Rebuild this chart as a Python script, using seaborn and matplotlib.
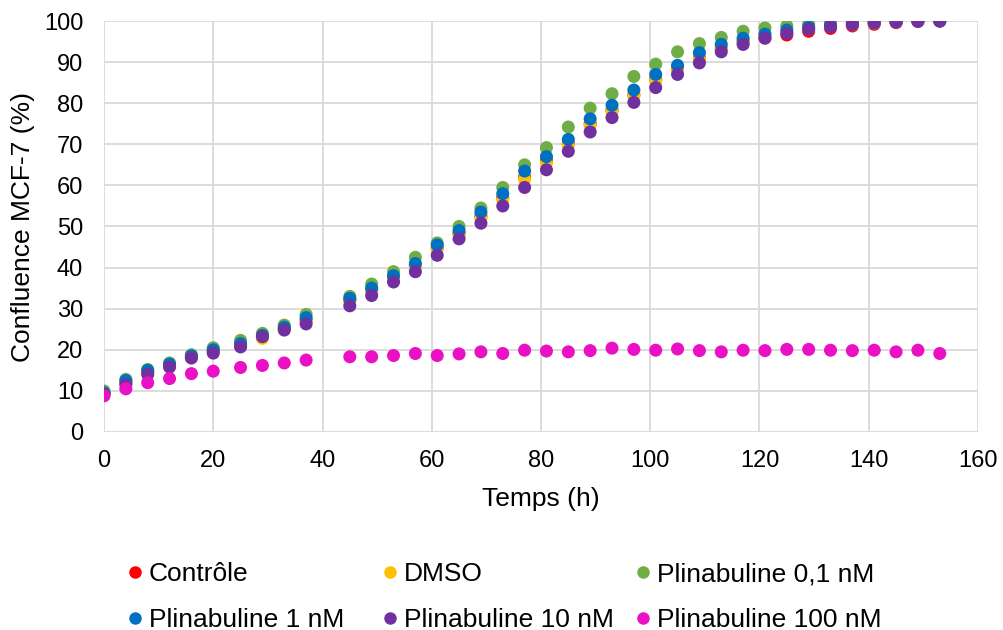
import matplotlib
matplotlib.use("Agg")
import matplotlib.pyplot as plt
from matplotlib.lines import Line2D
import seaborn as sns
import pandas as pd

temps = [0, 4, 8, 12, 16, 20, 25, 29, 33, 37, 45, 49, 53, 57, 61, 65, 69, 73, 77, 81, 85, 89,
         93, 97, 101, 105, 109, 113, 117, 121, 125, 129, 133, 137, 141, 145, 149, 153]

controle = [9.4, 12.0, 14.6, 16.2, 18.2, 19.7, 21.2, 23.0, 25.2, 27.2, 32.0, 34.5, 37.5, 40.5, 44.8,
            48.3, 52.5, 57.0, 62.0, 66.0, 70.2, 75.0, 78.3, 82.0, 85.8, 88.3, 91.0, 93.3, 95.0,
            96.0, 96.6, 97.5, 98.2, 98.8, 99.2, 99.6, 99.9, 100.0]
dmso = [9.3, 12.1, 14.5, 16.1, 18.1, 19.6, 21.0, 22.8, 25.0, 27.0, 31.8, 34.2, 37.2, 40.2, 44.5,
        48.0, 52.0, 56.5, 61.5, 65.5, 69.8, 74.6, 78.0, 81.8, 85.5, 88.0, 90.8, 93.2, 95.0,
        96.2, 97.2, 98.1, 98.7, 99.1, 99.5, 99.7, 99.9, 100.0]
plin_01 = [10.0, 12.8, 15.2, 16.8, 18.8, 20.5, 22.3, 24.0, 26.0, 28.6, 33.0, 36.0, 39.0, 42.5, 46.0,
           50.0, 54.5, 59.5, 65.0, 69.2, 74.2, 78.8, 82.3, 86.5, 89.5, 92.5, 94.5, 96.0, 97.5,
           98.3, 98.8, 99.2, 99.5, 99.7, 99.8, 99.9, 100.0, 100.0]
plin_1 = [9.5, 12.5, 15.0, 16.5, 18.5, 20.0, 21.5, 23.5, 25.5, 27.8, 32.5, 35.0, 38.0, 41.0, 45.5,
          49.0, 53.5, 58.0, 63.5, 67.0, 71.2, 76.2, 79.5, 83.2, 87.0, 89.2, 92.3, 94.3, 95.8,
          96.8, 97.8, 98.5, 99.0, 99.4, 99.7, 99.8, 100.0, 100.0]
plin_10 = [9.2, 11.5, 14.0, 15.8, 18.0, 19.2, 20.7, 23.2, 24.8, 26.3, 30.7, 33.2, 36.5, 39.0, 43.0,
           47.0, 50.8, 55.0, 59.5, 63.8, 68.3, 73.0, 76.5, 80.2, 83.8, 87.0, 89.8, 92.5, 94.3,
           95.8, 97.0, 98.0, 98.6, 99.1, 99.5, 99.7, 99.9, 100.0]
plin_100 = [8.8, 10.5, 12.0, 13.0, 14.2, 14.8, 15.7, 16.2, 16.8, 17.5, 18.3, 18.3, 18.6, 19.1, 18.6,
            19.0, 19.5, 19.1, 19.9, 19.7, 19.5, 19.8, 20.4, 20.1, 19.9, 20.2, 19.8, 19.5, 19.9,
            19.8, 20.1, 20.1, 19.9, 19.8, 19.9, 19.5, 19.9, 19.1]

series_names = ["Contrôle", "DMSO", "Plinabuline 0,1 nM", "Plinabuline 1 nM",
                "Plinabuline 10 nM", "Plinabuline 100 nM"]
series_values = [controle, dmso, plin_01, plin_1, plin_10, plin_100]
colors = ["#FF0000", "#FFC000", "#70AD47", "#0070C0", "#7030A0", "#EA10C4"]

rows = []
for name, vals in zip(series_names, series_values):
    for t, v in zip(temps, vals):
        rows.append({"Temps": t, "Confluence": v, "Série": name})
df = pd.DataFrame(rows)

sns.set_theme(style="white")
plt.rcParams["font.family"] = ["Liberation Sans", "DejaVu Sans"]
plt.rcParams["text.color"] = "#000000"
plt.rcParams["axes.labelcolor"] = "#000000"

W, H = 1004, 630
fig = plt.figure(figsize=(W / 100, H / 100), dpi=100)
ax = fig.add_axes([104 / W, 1 - 432 / H, (978 - 104) / W, (432 - 21) / H])

sns.scatterplot(data=df, x="Temps", y="Confluence", hue="Série", hue_order=series_names,
                palette=colors, s=88, edgecolor="none", linewidth=0, legend=False, ax=ax,
                zorder=3)

ax.set_xlim(0, 160)
ax.set_ylim(0, 100)
ax.set_xticks(range(0, 161, 20))
ax.set_yticks(range(0, 101, 10))
ax.grid(True, color="#D9D9D9", linewidth=1.3)
ax.set_axisbelow(True)
for sp in ax.spines.values():
    sp.set_visible(False)
ax.tick_params(axis="both", length=0, labelsize=17, colors="#000000")
ax.tick_params(axis="x", pad=13)
ax.tick_params(axis="y", pad=15)
ax.set_xlabel("Temps (h)", fontsize=19, color="#000000")
ax.set_ylabel("Confluence MCF-7 (%)", fontsize=19, color="#000000")
ax.xaxis.set_label_coords(0.5, (432 - 499) / 411)
ax.xaxis.label.set_va("center")
ax.yaxis.set_label_coords((23 - 104) / 874, 0.5)
ax.yaxis.label.set_va("center")

handles = [Line2D([0], [0], marker="o", linestyle="none", markersize=9,
                  markerfacecolor=c, markeredgecolor="none") for c in colors]

col_starts = [128, 383, 636.5]
col_items = [[0, 3], [1, 4], [2, 5]]
for xs, items in zip(col_starts, col_items):
    leg = fig.legend([handles[i] for i in items], [series_names[i] for i in items],
                     loc="center left", bbox_to_anchor=(xs / W, 1 - 597 / H),
                     frameon=False, fontsize=19, handlelength=0.5, handletextpad=0.28,
                     labelspacing=0.83, borderpad=0, borderaxespad=0)
    for txt in leg.get_texts():
        txt.set_color("#000000")

fig.savefig("out.png", dpi=100)
